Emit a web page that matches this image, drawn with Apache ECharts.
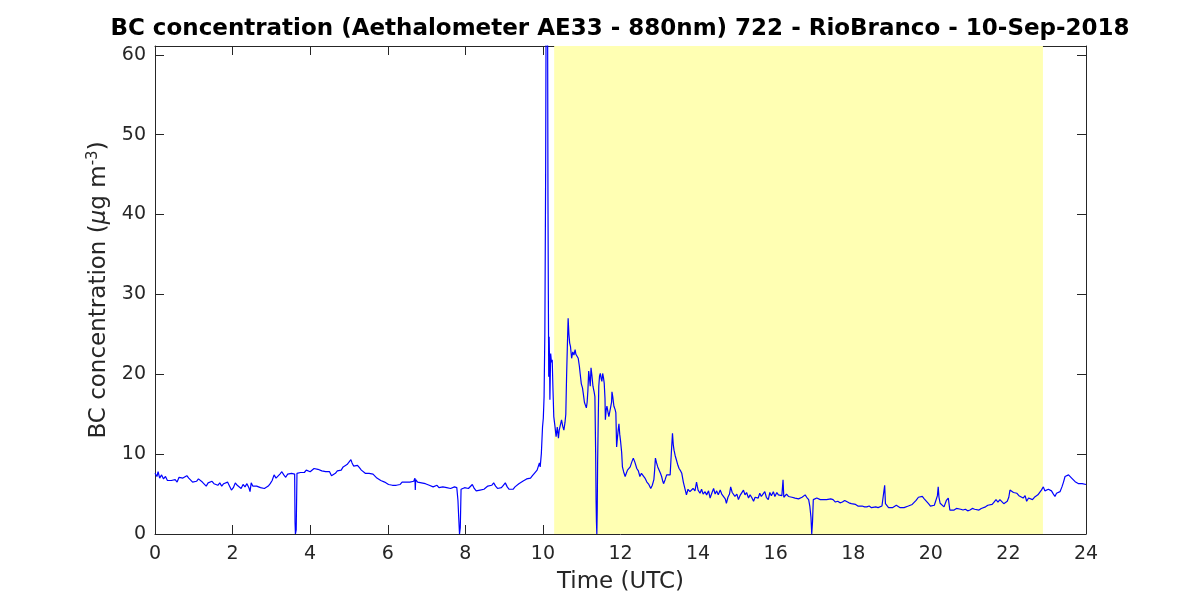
<!DOCTYPE html>
<html>
<head>
<meta charset="utf-8">
<script src="https://cdn.jsdelivr.net/npm/echarts@6/dist/echarts.min.js"></script>
<style>html,body{margin:0;padding:0;background:#fff;}#c{width:1200px;height:600px;}</style>
</head>
<body>
<div id="c"></div>
<script>
const titleText = 'BC concentration (Aethalometer AE33 - 880nm) 722 - RioBranco - 10-Sep-2018';
const xLabel = 'Time (UTC)';
const shadeStart = 10.29;
const shadeEnd = 22.89;
const xTicks = [0, 2, 4, 6, 8, 10, 12, 14, 16, 18, 20, 22, 24];
const yTicks = [0, 10, 20, 30, 40, 50, 60];

const hours = [
0.00,0.05,0.08,0.12,0.17,0.22,0.27,0.32,0.37,0.42,0.47,0.52,0.57,0.62,0.67,0.72,0.77,0.82,0.87,0.92,0.97,
1.02,1.07,1.12,1.17,1.22,1.27,1.32,1.37,1.42,1.47,1.52,1.57,1.62,1.67,1.72,1.77,1.82,1.87,1.92,1.97,
2.02,2.07,2.12,2.17,2.22,2.27,2.32,2.37,2.42,2.45,2.48,2.52,2.57,2.62,2.67,2.72,2.77,2.82,2.87,2.92,2.97,
3.02,3.07,3.12,3.17,3.22,3.27,3.32,3.37,3.42,3.47,3.52,3.57,3.60,3.61,3.62,3.64,3.66,3.70,3.75,3.80,3.85,3.90,3.95,
4.00,4.05,4.10,4.15,4.20,4.25,4.30,4.35,4.40,4.45,4.50,4.55,4.60,4.65,4.70,4.75,4.80,4.85,4.90,4.95,
5.00,5.05,5.08,5.12,5.17,5.22,5.27,5.32,5.37,5.42,5.47,5.52,5.57,5.62,5.67,5.72,5.77,5.82,5.87,5.92,5.97,
6.02,6.07,6.12,6.17,6.22,6.27,6.32,6.37,6.42,6.47,6.52,6.57,6.62,6.67,6.70,6.71,6.72,6.77,6.82,6.87,6.92,6.97,
7.02,7.07,7.12,7.17,7.22,7.27,7.32,7.37,7.42,7.47,7.52,7.57,7.62,7.67,7.72,7.78,7.81,7.83,7.85,7.87,7.89,7.93,7.98,
8.03,8.08,8.13,8.18,8.23,8.28,8.33,8.38,8.43,8.48,8.53,8.58,8.63,8.68,8.73,8.78,8.83,8.88,8.93,8.98,
9.03,9.08,9.13,9.18,9.23,9.28,9.33,9.38,9.43,9.48,9.53,9.58,9.63,9.68,9.73,9.78,9.82,9.85,9.88,9.91,9.93,9.96,9.99,
10.01,10.03,10.05,10.07,10.08,10.10,10.12,10.13,10.14,10.15,10.16,10.17,10.18,10.20,10.22,10.24,10.26,10.28,10.31,10.34,10.37,10.40,10.42,10.45,10.48,
10.51,10.54,10.57,10.59,10.61,10.63,10.65,10.67,10.69,10.71,10.74,10.77,10.80,10.83,10.85,10.88,10.91,10.94,10.96,10.99,
11.02,11.04,11.07,11.09,11.12,11.14,11.16,11.18,11.20,11.22,11.24,11.26,11.29,11.32,11.34,11.36,11.37,11.38,11.39,11.40,11.41,11.43,11.44,11.46,11.48,
11.50,11.52,11.54,11.56,11.58,11.60,11.61,11.63,11.65,11.68,11.70,11.73,11.75,11.77,11.78,11.80,11.83,11.86,11.88,11.90,11.92,11.94,11.96,11.98,
12.00,12.03,12.05,12.08,12.12,12.15,12.18,12.21,12.25,12.29,12.33,12.37,12.42,12.46,12.50,12.54,12.59,12.63,12.68,12.73,12.78,12.82,12.86,12.88,12.90,12.93,12.96,
13.00,13.03,13.06,13.09,13.11,13.15,13.19,13.23,13.28,13.31,13.34,13.36,13.38,13.41,13.44,13.48,13.51,13.55,13.58,13.62,13.66,13.70,13.74,13.79,13.83,13.87,13.92,13.96,
14.00,14.05,14.09,14.13,14.18,14.22,14.27,14.31,14.36,14.40,14.44,14.48,14.52,14.57,14.61,14.65,14.70,14.73,14.77,14.81,14.84,14.88,14.92,14.95,
15.00,15.04,15.08,15.12,15.17,15.21,15.25,15.30,15.34,15.38,15.43,15.47,15.51,15.55,15.59,15.63,15.68,15.72,15.76,15.81,15.85,15.89,15.94,15.98,
16.03,16.07,16.11,16.16,16.19,16.21,16.24,16.28,16.33,16.37,16.42,16.46,16.50,16.55,16.59,16.63,16.68,16.72,16.76,16.80,16.85,16.88,16.91,16.93,16.95,16.97,
17.02,17.06,17.10,17.15,17.20,17.25,17.31,17.36,17.42,17.48,17.54,17.60,17.66,17.72,17.78,17.83,17.89,17.95,
18.00,18.06,18.12,18.17,18.23,18.29,18.35,18.41,18.47,18.52,18.58,18.64,18.69,18.74,18.79,18.81,18.83,18.86,18.91,18.96,
19.01,19.06,19.11,19.16,19.21,19.26,19.31,19.36,19.42,19.47,19.52,19.57,19.62,19.68,19.73,19.78,19.83,19.88,19.94,19.99,
20.04,20.09,20.14,20.17,20.19,20.21,20.24,20.29,20.34,20.40,20.45,20.49,20.54,20.60,20.66,20.71,20.77,20.83,20.89,20.95,
21.01,21.07,21.13,21.18,21.24,21.30,21.35,21.41,21.47,21.52,21.58,21.63,21.68,21.73,21.78,21.83,21.88,21.93,21.97,
22.01,22.04,22.08,22.13,22.18,22.22,22.27,22.32,22.38,22.43,22.47,22.52,22.57,22.62,22.67,22.72,22.76,22.80,22.85,22.90,22.94,22.99,
23.03,23.07,23.11,23.16,23.20,23.24,23.29,23.33,23.38,23.42,23.46,23.51,23.55,23.59,23.63,23.68,23.72,23.77,23.81,23.85,23.90,23.95,24.00
];

const bc = [
7.6,7.2,7.8,7.0,7.4,6.9,7.2,6.7,6.5,6.7,6.6,6.8,6.5,7.1,6.9,7.0,6.8,7.3,7.0,6.8,6.5,
6.7,6.6,6.9,6.8,6.5,6.3,6.0,6.4,6.3,6.6,6.3,6.5,6.1,6.4,6.0,6.3,6.2,6.5,6.0,5.5,
5.8,6.4,6.1,6.3,5.7,6.2,5.9,6.3,5.8,5.3,6.4,6.0,6.2,6.0,6.1,5.8,5.6,5.7,5.8,6.0,6.3,
6.7,7.4,7.0,6.8,7.5,7.8,7.4,7.1,7.5,7.7,7.6,7.8,7.5,1.5,0,0.5,7.6,7.5,7.7,7.9,7.7,8.0,7.8,
7.8,8.0,8.2,8.3,8.1,8.0,7.9,8.0,7.8,7.7,7.8,7.3,7.2,7.6,7.9,8.1,8.0,8.4,8.6,8.7,
9.0,9.3,8.9,8.5,8.4,8.6,8.3,8.0,8.1,7.6,7.5,7.6,7.4,7.5,7.3,7.0,6.9,6.7,6.6,6.5,6.3,
6.2,6.4,6.1,6.0,6.1,6.3,6.2,6.5,6.6,6.5,6.6,6.5,6.7,6.6,7.0,5.5,6.8,6.5,6.3,6.4,6.2,6.3,
6.3,6.1,6.0,5.9,5.8,6.1,5.8,5.7,5.9,6.0,5.8,5.9,5.7,5.8,5.9,5.8,4.2,2.0,0.0,0.8,5.6,5.5,5.8,
6.0,5.7,5.9,6.2,5.7,5.4,5.3,5.5,5.4,5.6,5.8,6.0,5.9,6.1,6.4,6.0,5.7,5.6,5.8,6.1,
6.4,5.9,5.6,5.5,5.6,5.9,6.1,6.3,6.5,6.6,6.7,6.9,7.0,7.0,7.3,7.6,7.4,8.0,7.8,8.9,8.4,10.1,13.4,
14.5,17.2,25.2,45,62,70,66,42.3,30,19.7,24.7,22,16.8,22.6,21.5,21.8,18,14.7,13.5,12.2,13.4,12.0,13.0,12.8,14.3,
13.5,13.0,14.0,15.0,19.7,23.5,27.0,25.0,23.9,23.5,22.0,22.8,22.4,23.1,22.5,22.7,22.0,21.0,20.1,18.8,
18.3,17.6,16.5,16.2,15.8,16.5,18.0,20.4,19.5,18.5,20.8,20.0,18.5,17.8,17.2,10,4.3,1.5,0,3,8.9,15.5,18.5,19.8,20.1,
19.5,19.1,20.1,19.6,18.9,17,14.3,15.5,16.0,15.2,14.7,14.9,14.5,16.5,17.8,17.2,16.0,15.6,15.2,10.9,12.0,13.0,13.8,12.5,
11.7,10.2,8.4,7.8,7.2,7.6,8.0,8.2,8.4,9.0,9.5,9.0,8.2,7.9,7.2,7.6,7.4,7.0,6.5,6.2,5.7,6.1,6.8,8.0,9.5,8.9,8.4,
8.2,7.6,7.2,6.6,6.3,6.8,7.4,7.2,7.4,10.1,12.6,11.2,10.5,9.8,9.3,8.6,8.2,7.9,7.6,6.5,6.3,4.9,5.6,5.3,5.5,5.7,5.4,6.5,
5.5,5.1,5.6,5.0,5.3,4.9,5.4,4.5,5.2,5.7,5.0,5.4,4.9,5.5,5.0,4.8,4.4,3.85,4.6,5.0,5.9,5.2,5.3,4.7,
5.0,4.3,4.8,5.0,5.5,4.9,5.2,4.5,4.9,4.6,4.1,4.6,4.8,4.5,5.1,4.7,4.9,5.3,4.6,4.3,5.2,4.8,5.3,4.7,
5.2,4.9,5.1,4.8,6.8,4.6,4.5,5.0,4.7,4.9,4.6,4.8,4.5,4.7,4.4,4.3,4.6,4.5,4.9,4.6,4.3,3.5,2.1,0,1.5,4.3,
4.4,4.5,4.5,4.3,4.4,4.3,4.3,4.2,4.4,4.3,4.0,4.1,3.9,4.0,4.2,4.1,3.9,3.8,
3.65,3.7,3.5,3.4,3.5,3.4,3.4,3.5,3.3,3.4,3.4,3.3,3.2,3.5,3.7,6.1,3.8,3.6,3.3,3.5,
3.3,3.4,3.6,3.4,3.3,3.5,3.3,3.3,3.5,3.6,3.7,3.9,4.2,4.6,4.5,4.7,4.4,4.4,3.8,3.5,
3.4,3.6,3.4,4.8,5.9,4.6,3.85,3.6,3.4,4.2,4.5,3.0,3.1,3.0,3.2,3.0,3.1,3.0,3.1,2.9,
3.0,3.2,3.1,2.9,3.0,3.2,3.2,3.4,3.6,3.4,3.7,4.0,4.3,4.0,4.3,4.1,3.8,3.9,4.1,
4.6,5.5,5.3,5.2,5.0,5.1,4.8,4.9,4.5,4.8,4.1,4.5,4.6,4.3,4.6,4.5,4.9,5.1,5.5,5.9,5.4,5.3,
5.6,5.7,5.4,5.0,4.7,5.1,5.0,5.3,5.9,6.5,7.2,7.1,7.4,7.3,7.0,7.1,6.55,6.4,6.3,6.1,6.3,6.1,6.2
];

const seriesData = hours.map((h, i) => [h, bc[i]]);

const FONT = 'DejaVu Sans';
const INK = '#262626';
const chart = echarts.init(document.getElementById('c'), null, {renderer: 'canvas'});

function axisCommon() {
  return {
    axisLine: {show: true, onZero: false, lineStyle: {color: INK, width: 1}},
    axisTick: {show: true, inside: true, length: 9, lineStyle: {color: INK, width: 1}},
    splitLine: {show: false}
  };
}

chart.setOption({
  animation: false,
  backgroundColor: '#ffffff',
  graphic: [{
    type: 'text', x: 620, y: 29, z: 10,
    style: {text: titleText, textAlign: 'center', textVerticalAlign: 'middle',
      font: 'bold 23px "DejaVu Sans"', fill: '#000'}
  }],
  grid: {left: 155, right: 114, top: 46, bottom: 66, containLabel: false},
  xAxis: [
    Object.assign(axisCommon(), {
      type: 'value', min: 0, max: 24, interval: 2, position: 'bottom',
      axisLabel: {color: INK, fontFamily: FONT, fontSize: 19, margin: 11,
        formatter: v => xTicks.includes(v) ? String(v) : ''},
      name: xLabel, nameLocation: 'middle', nameGap: 37,
      nameTextStyle: {color: INK, fontFamily: FONT, fontSize: 23}
    }),
    Object.assign(axisCommon(), {
      type: 'value', min: 0, max: 24, interval: 2, position: 'top',
      axisLabel: {show: false}
    })
  ],
  yAxis: [
    Object.assign(axisCommon(), {
      type: 'value', min: 0, max: 61.1, interval: 10, position: 'left',
      axisLabel: {color: INK, fontFamily: FONT, fontSize: 19, margin: 9, showMaxLabel: false,
        formatter: v => yTicks.includes(v) ? String(v) : ''},
      name: '{a|BC concentration (}{mu|μ}{a|g m}{sup|-3}{a|)}',
      nameLocation: 'middle', nameRotate: 90, nameGap: 40,
      nameTextStyle: {color: INK, fontFamily: FONT, fontSize: 23,
        rich: {
          a: {color: INK, fontFamily: FONT, fontSize: 23},
          mu: {color: INK, fontFamily: FONT, fontSize: 23, fontStyle: 'italic'},
          sup: {color: INK, fontFamily: FONT, fontSize: 15, padding: [0, 0, 13, 0]}
        }}
    }),
    Object.assign(axisCommon(), {
      type: 'value', min: 0, max: 61.1, interval: 10, position: 'right',
      axisLabel: {show: false}
    })
  ],
  series: [
    {
      type: 'line', data: [], z: 1, silent: true,
      markArea: {
        silent: true,
        itemStyle: {color: '#ffffb3', opacity: 1},
        data: [[{xAxis: shadeStart}, {xAxis: shadeEnd}]]
      }
    },
    {
      type: 'line', data: seriesData, z: 3, showSymbol: false, symbol: 'none',
      lineStyle: {color: '#0000ff', width: 1.2}, clip: true
    }
  ]
});
</script>
</body>
</html>
